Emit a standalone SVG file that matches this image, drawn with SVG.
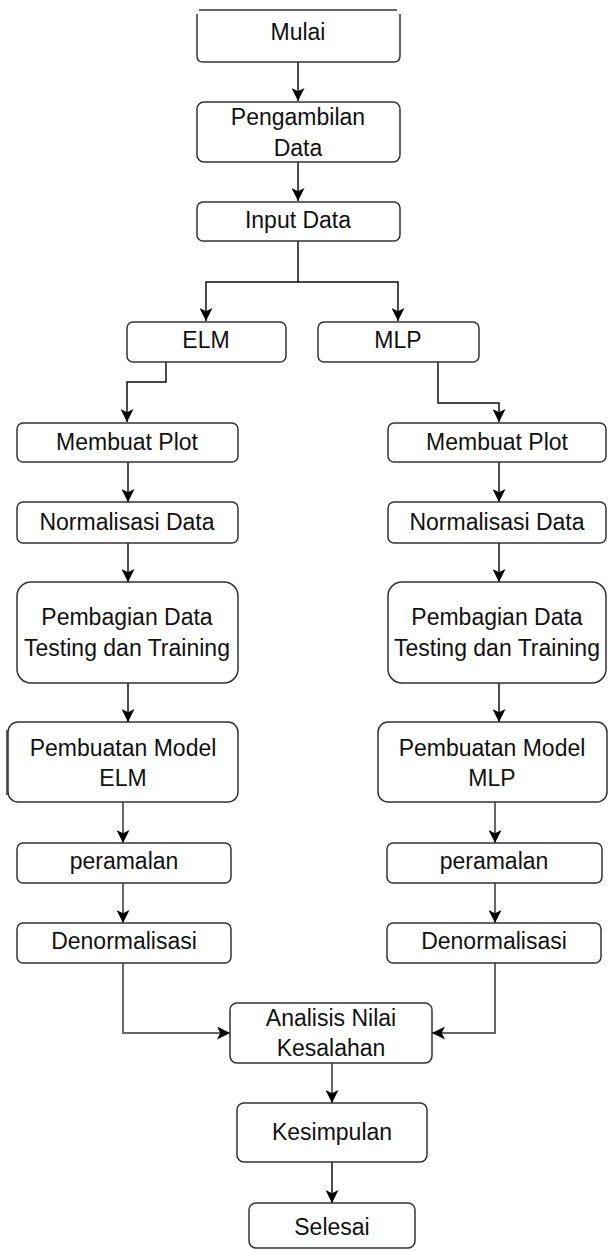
<svg xmlns="http://www.w3.org/2000/svg" width="609" height="1251" viewBox="0 0 609 1251">
<style>
.box{fill:#fff;stroke:#333;stroke-width:1.5}
.t{font-family:"Liberation Sans",Arial,sans-serif;font-size:23px;fill:#111;text-anchor:middle}
.c{fill:none;stroke:#111;stroke-width:1.5}
.g{fill:none;stroke:#666;stroke-width:2}
</style>
<defs>
<marker id="ah" viewBox="0 0 10 10" refX="10" refY="5" markerWidth="13" markerHeight="13" markerUnits="userSpaceOnUse" orient="auto">
<path d="M0,0 L10,5 L0,10 L2.5,5 z" fill="#000"/>
</marker>
</defs>
<rect width="609" height="1251" fill="#fff"/>
<g id="connectors">
<path class="c" d="M298,62 V101" marker-end="url(#ah)"/>
<path class="c" d="M298,162 V201" marker-end="url(#ah)"/>
<path class="c" d="M298,241 V282 H206 V321" marker-end="url(#ah)"/>
<path class="c" d="M298,282 H398 V321" marker-end="url(#ah)"/>
<path class="c" d="M166,362 V382 H127 V422" marker-end="url(#ah)"/>
<path class="c" d="M438,362 V403 H499 V422" marker-end="url(#ah)"/>
<path class="c" d="M128,462 V502" marker-end="url(#ah)"/>
<path class="c" d="M499,462 V502" marker-end="url(#ah)"/>
<path class="c" d="M128,543 V582" marker-end="url(#ah)"/>
<path class="c" d="M499,543 V582" marker-end="url(#ah)"/>
<path class="c" d="M128,683 V722" marker-end="url(#ah)"/>
<path class="c" d="M499,683 V722" marker-end="url(#ah)"/>
<path class="g" d="M123,802 V843" marker-end="url(#ah)"/>
<path class="g" d="M495,802 V843" marker-end="url(#ah)"/>
<path class="g" d="M123,883 V923" marker-end="url(#ah)"/>
<path class="g" d="M495,883 V923" marker-end="url(#ah)"/>
<path class="g" d="M123,963 V1033 H230" marker-end="url(#ah)"/>
<path class="g" d="M495,963 V1033 H432" marker-end="url(#ah)"/>
<path class="g" d="M332,1063 V1103" marker-end="url(#ah)"/>
<path class="c" d="M332,1162 V1203" marker-end="url(#ah)"/>
</g>
<g id="mulai">
<line x1="199" y1="10" x2="397" y2="10" stroke="#333" stroke-width="1.5"/>
<path class="box" d="M197,14 V56 Q197,62 203,62 H394 Q400,62 400,56 V14"/>
<text class="t" x="298" y="40">Mulai</text>
</g>
<g id="pengambilan">
<rect class="box" x="197" y="102" width="203" height="60" rx="7"/>
<text class="t" x="298" y="125">Pengambilan</text>
<text class="t" x="298" y="156">Data</text>
</g>
<g id="input">
<rect class="box" x="197" y="202" width="203" height="39" rx="6"/>
<text class="t" x="298" y="228">Input Data</text>
</g>
<g id="elm">
<rect class="box" x="127" y="322" width="159" height="40" rx="6"/>
<text class="t" x="206" y="348">ELM</text>
</g>
<g id="mlp">
<rect class="box" x="318" y="322" width="161" height="40" rx="6"/>
<text class="t" x="398" y="348">MLP</text>
</g>
<g id="plot-l">
<rect class="box" x="17" y="423" width="221" height="39" rx="6"/>
<text class="t" x="127" y="450">Membuat Plot</text>
</g>
<g id="plot-r">
<rect class="box" x="388" y="423" width="218" height="39" rx="6"/>
<text class="t" x="497" y="450">Membuat Plot</text>
</g>
<g id="norm-l">
<rect class="box" x="17" y="502" width="221" height="41" rx="6"/>
<text class="t" x="127" y="530">Normalisasi Data</text>
</g>
<g id="norm-r">
<rect class="box" x="388" y="502" width="218" height="41" rx="6"/>
<text class="t" x="497" y="530">Normalisasi Data</text>
</g>
<g id="bagi-l">
<rect class="box" x="17" y="582" width="221" height="101" rx="14"/>
<text class="t" x="127" y="625">Pembagian Data</text>
<text class="t" x="127" y="656">Testing dan Training</text>
</g>
<g id="bagi-r">
<rect class="box" x="388" y="582" width="218" height="101" rx="14"/>
<text class="t" x="497" y="625">Pembagian Data</text>
<text class="t" x="497" y="656">Testing dan Training</text>
</g>
<g id="model-l">
<line x1="7" y1="730" x2="7" y2="795" stroke="#333" stroke-width="1.5"/>
<rect class="box" x="8" y="722" width="230" height="80" rx="10"/>
<text class="t" x="123" y="756">Pembuatan Model</text>
<text class="t" x="123" y="786">ELM</text>
</g>
<g id="model-r">
<rect class="box" x="378" y="722" width="229" height="80" rx="10"/>
<text class="t" x="492" y="756">Pembuatan Model</text>
<text class="t" x="492" y="786">MLP</text>
</g>
<g id="ramal-l">
<rect class="box" x="17" y="843" width="214" height="40" rx="6"/>
<text class="t" x="124" y="869">peramalan</text>
</g>
<g id="ramal-r">
<rect class="box" x="387" y="843" width="215" height="40" rx="6"/>
<text class="t" x="494" y="869">peramalan</text>
</g>
<g id="denorm-l">
<rect class="box" x="17" y="923" width="214" height="40" rx="6"/>
<text class="t" x="124" y="949">Denormalisasi</text>
</g>
<g id="denorm-r">
<rect class="box" x="387" y="923" width="214" height="40" rx="6"/>
<text class="t" x="494" y="949">Denormalisasi</text>
</g>
<g id="analisis">
<rect class="box" x="230" y="1003" width="202" height="60" rx="7"/>
<text class="t" x="331" y="1026">Analisis Nilai</text>
<text class="t" x="331" y="1056">Kesalahan</text>
</g>
<g id="kesimpulan">
<rect class="box" x="237" y="1103" width="190" height="59" rx="7"/>
<text class="t" x="332" y="1140">Kesimpulan</text>
</g>
<g id="selesai">
<rect class="box" x="249" y="1203" width="166" height="45" rx="7"/>
<text class="t" x="332" y="1235">Selesai</text>
</g>
</svg>
